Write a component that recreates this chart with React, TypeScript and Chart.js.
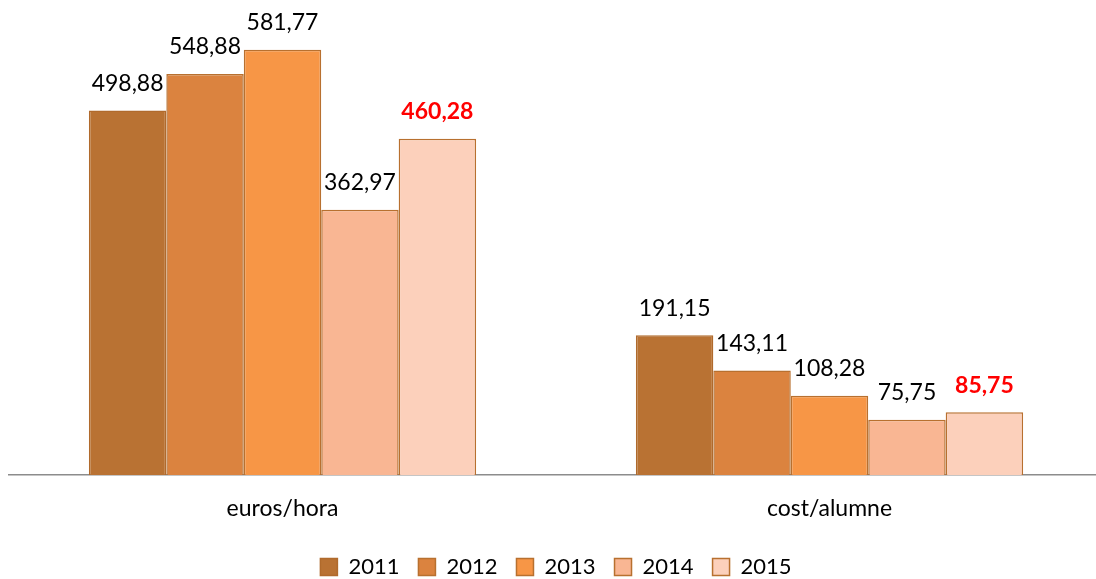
import React, { useEffect, useRef } from "react";
import { Chart, registerables } from "chart.js";

Chart.register(...registerables);

const categories = ["euros/hora", "cost/alumne"];
const years = ["2011", "2012", "2013", "2014", "2015"];
const values2011 = [498.88, 191.15];
const values2012 = [548.88, 143.11];
const values2013 = [581.77, 108.28];
const values2014 = [362.97, 75.75];
const values2015 = [460.28, 85.75];
const fillColors = ["#B97233", "#DB833F", "#F79646", "#F9B693", "#FCD0BB"];
const borderColors = ["#B06A2C", "#B8702F", "#B8702F", "#B8702F", "#B8702F"];
const highlightYear = "2015";

const FONT = "Lato, 'Open Sans', sans-serif";

const labelPlugin = {
  id: "valueLabels",
  afterDatasetsDraw(chart: any) {
    const ctx = chart.ctx;
    ctx.save();
    chart.data.datasets.forEach((ds: any, di: number) => {
      const meta = chart.getDatasetMeta(di);
      const hi = ds.label === highlightYear;
      ctx.font = `${hi ? "bold " : ""}23px ${FONT}`;
      ctx.fillStyle = hi ? "#FF0000" : "#000000";
      ctx.textAlign = "center";
      ctx.textBaseline = "middle";
      meta.data.forEach((bar: any, i: number) => {
        const v = ds.data[i] as number;
        const txt = v.toFixed(2).replace(".", ",");
        ctx.fillText(txt, bar.x, bar.y - 27);
      });
    });
    ctx.restore();
  },
};

export default function App() {
  const ref = useRef<HTMLCanvasElement>(null);
  useEffect(() => {
    if (!ref.current) return;
    const series = [values2011, values2012, values2013, values2014, values2015];
    const chart = new Chart(ref.current, {
      type: "bar",
      data: {
        labels: categories,
        datasets: years.map((y, i) => ({
          label: y,
          data: series[i],
          backgroundColor: fillColors[i],
          borderColor: borderColors[i],
          borderWidth: 1.5,
          barPercentage: 1,
          categoryPercentage: 0.708,
        })),
      },
      options: {
        responsive: false,
        animation: false,
        layout: { padding: { left: 9, right: 1, top: 0, bottom: -9 } },
        plugins: {
          tooltip: { enabled: false },
          legend: {
            position: "bottom",
            labels: {
              font: { family: FONT, size: 22 },
              color: "#000",
              boxWidth: 17,
              boxHeight: 17,
              padding: 19,
            },
          },
        },
        scales: {
          x: {
            grid: { display: false, drawTicks: false },
            border: { display: true, color: "#8C8C8C", width: 1.5 },
            ticks: {
              font: { family: FONT, size: 23 },
              color: "#000",
              padding: 20,
            },
            afterFit(scale: any) {
              scale.height = 62;
            },
          },
          y: {
            display: false,
            min: 0,
            max: 650,
          },
        },
      },
      plugins: [labelPlugin],
    });
    return () => chart.destroy();
  }, []);
  return (
    <div
      style={{
        position: "fixed",
        left: 0,
        top: 0,
        width: 1096,
        height: 579,
        overflow: "hidden",
        background: "#fff",
      }}
    >
      <canvas ref={ref} width={1104} height={579} style={{ display: "block" }} />
    </div>
  );
}
